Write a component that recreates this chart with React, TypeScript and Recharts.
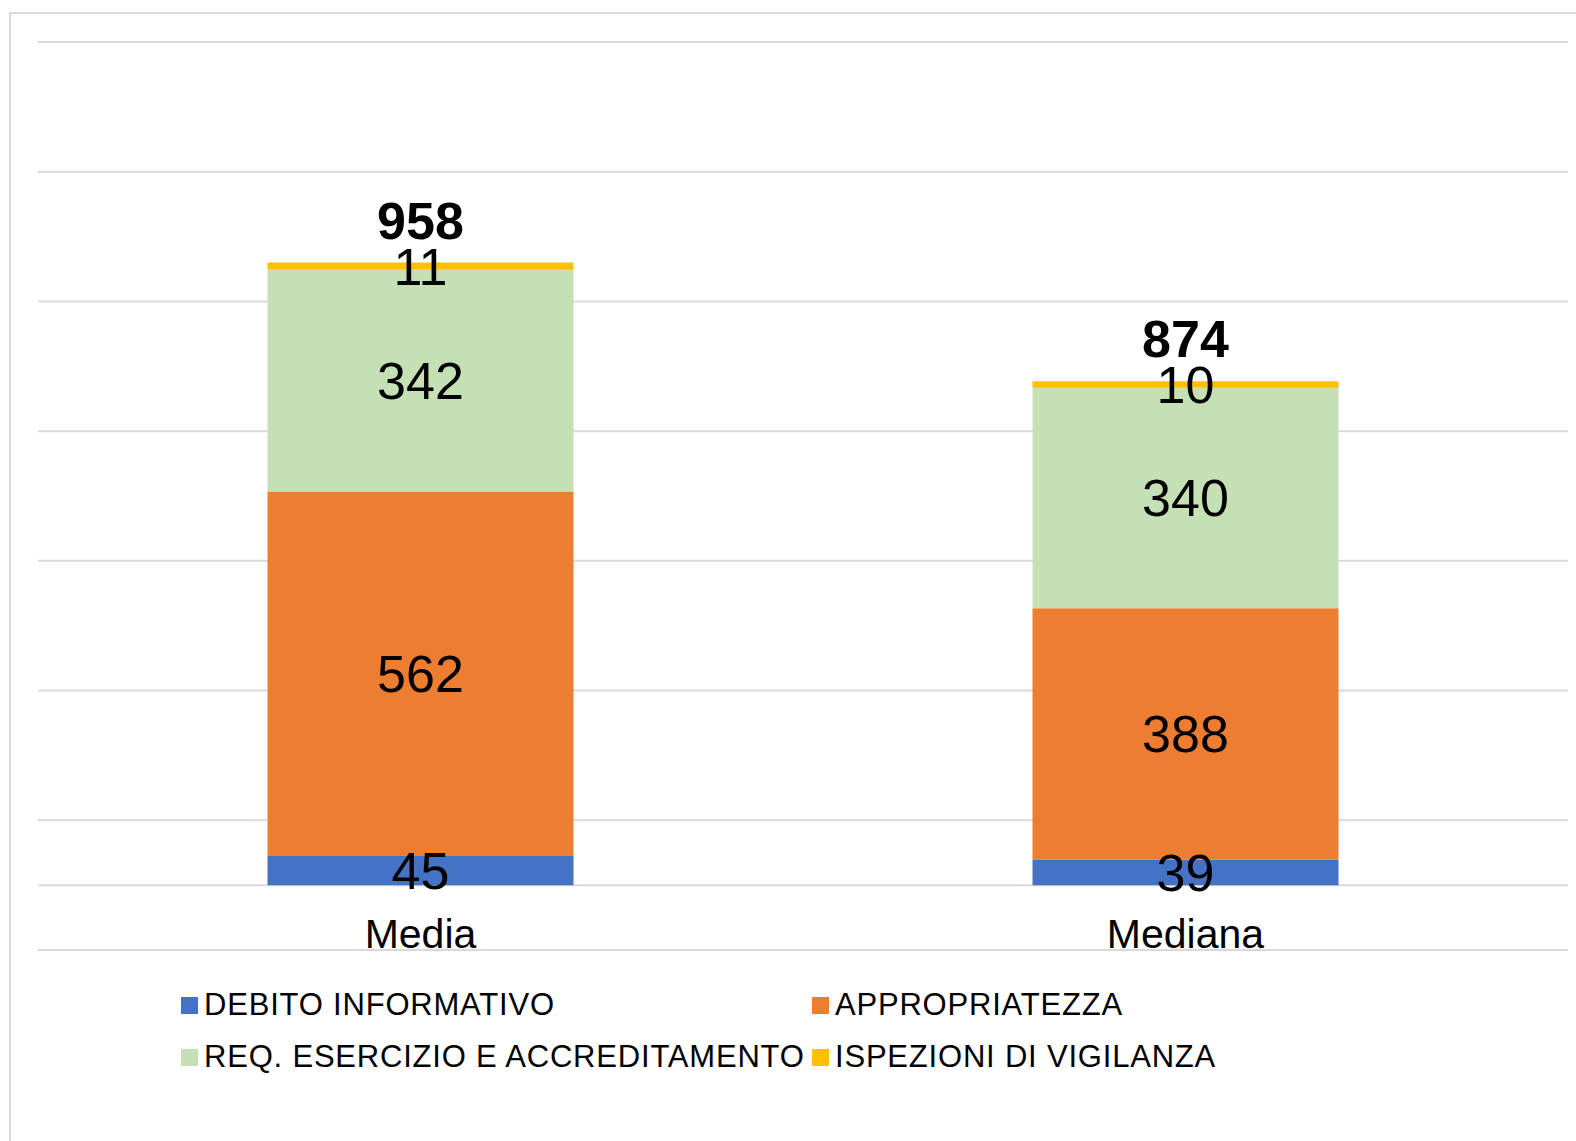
import { BarChart, Bar, XAxis, YAxis, CartesianGrid, LabelList } from "recharts";

const categories = ["Media", "Mediana"];
const debitoInformativo = [45, 39];
const appropriatezza = [562, 388];
const requisiti = [342, 340];
const ispezioni = [11, 10];
const totals = [958, 874];
const yTicks = [-100, 0, 100, 300, 500, 700, 900, 1100, 1300];

const series = [
  { key: "debito", name: "DEBITO INFORMATIVO", color: "#4472C4" },
  { key: "appropriatezza", name: "APPROPRIATEZZA", color: "#ED7D31" },
  { key: "requisiti", name: "REQ. ESERCIZIO E ACCREDITAMENTO", color: "#C5E0B4" },
  { key: "ispezioni", name: "ISPEZIONI DI VIGILANZA", color: "#FFC000" },
];

const data = categories.map((name, i) => ({
  name,
  debito: debitoInformativo[i],
  appropriatezza: appropriatezza[i],
  requisiti: requisiti[i],
  ispezioni: ispezioni[i],
  total: totals[i],
}));

const FONT = "'Liberation Sans', Arial, sans-serif";

// legend order: row by row, two columns
const legendRows = [
  [series[0], series[1]],
  [series[2], series[3]],
];

export default function App() {
  return (
    <div style={{ position: "absolute", left: 0, top: 0, width: 1576, height: 1141, overflow: "hidden", background: "#fff" }}>
      {/* chart frame, only top/left edges are visible in the crop */}
      <div style={{ position: "absolute", left: 9, top: 12, width: 1700, height: 1300, borderLeft: "2px solid #D9D9D9", borderTop: "2px solid #D9D9D9" }} />

      <div style={{ position: "absolute", left: 0, top: 0 }}>
        <BarChart
          width={1576}
          height={1141}
          data={data}
          margin={{ top: 42, right: 8, bottom: 191, left: 38 }}
          barCategoryGap="30%"
        >
          <CartesianGrid vertical={false} stroke="#D9D9D9" strokeWidth={2} />
          <YAxis hide domain={[-100, 1300]} ticks={yTicks} allowDataOverflow />
          <XAxis dataKey="name" hide />
          {series.map((s, idx) => (
            <Bar key={s.key} dataKey={s.key} name={s.name} stackId="a" fill={s.color} isAnimationActive={false}>
              <LabelList dataKey={s.key} position="center" fontSize={52} fontFamily={FONT} fill="#000" />
              {idx === 0 && (
                <LabelList dataKey="name" position="bottom" offset={34} fontSize={41} fontFamily={FONT} fill="#000" />
              )}
              {idx === series.length - 1 && (
                <LabelList dataKey="total" position="top" offset={24} fontSize={52} fontWeight="bold" fontFamily={FONT} fill="#000" />
              )}
            </Bar>
          ))}
        </BarChart>
      </div>

      <div style={{ position: "absolute", left: 181, top: 979, fontFamily: FONT, fontSize: 31, letterSpacing: 0.8, color: "#000" }}>
        {legendRows.map((row, r) => (
          <div key={r} style={{ display: "flex", height: 52 }}>
            {row.map((s) => (
              <div key={s.key} style={{ width: 631, display: "flex", alignItems: "center", whiteSpace: "nowrap" }}>
                <span style={{ display: "inline-block", width: 17, height: 17, background: s.color, marginRight: 6 }} />
                <span>{s.name}</span>
              </div>
            ))}
          </div>
        ))}
      </div>
    </div>
  );
}
